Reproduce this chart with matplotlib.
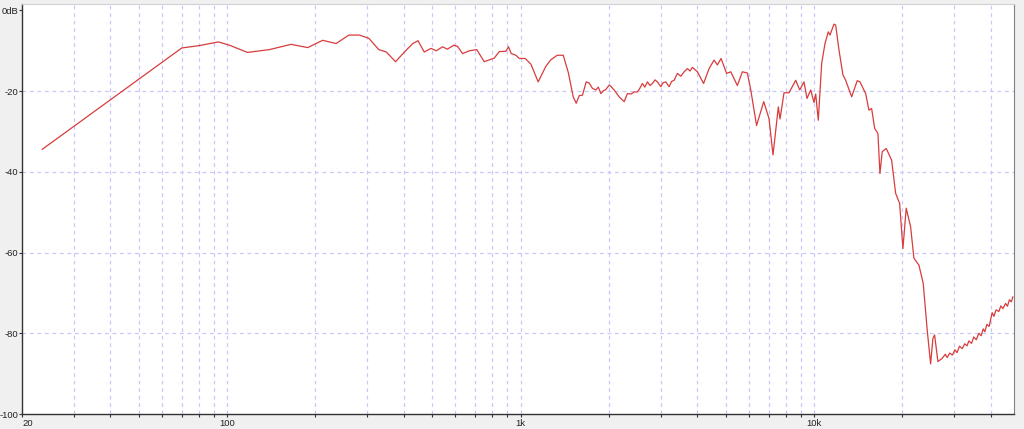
import numpy as np
import matplotlib
matplotlib.use("Agg")
import matplotlib.pyplot as plt
from matplotlib.ticker import FixedLocator, NullFormatter

# frequency response (Hz, dB)
freq = [23.45, 70.05, 80.5, 93.4, 101.8, 117.3, 139.3, 165.2, 188.2, 211.6,
        235.1, 259.9, 282.2, 304.0, 328.7, 348.6, 375.0, 403.0, 429.1, 447.0,
        469.6, 495.0, 516.0, 542.1, 562.5, 592.8, 609.8, 634.2, 668.4, 708.9,
        751.8, 813.3, 845.8, 891.2, 909.6, 929.1, 964.0, 989.2, 1037, 1084,
        1148, 1220, 1269, 1333, 1397, 1453, 1511, 1547, 1584, 1625,
        1673, 1713, 1757, 1805, 1840, 1877, 1915, 1952, 2003, 2030, 2083, 2166,
        2253, 2312, 2380, 2437, 2495, 2534, 2601, 2650, 2705, 2760, 2813,
        2870, 2926, 3005, 3060, 3125, 3206, 3270, 3335, 3422, 3515, 3607,
        3702, 3780, 3850, 4004, 4203, 4388, 4563, 4683, 4821, 5033,
        5202, 5478, 5697, 5925, 6085, 6368, 6737, 7023, 7246, 7554,
        7655, 7899, 8215, 8658, 8934, 9240, 9460, 9739, 9994, 10128,
        10336, 10616, 10894, 11179, 11329, 11690, 11847, 12158, 12545, 12813,
        13430, 14032, 14332, 14988, 15380, 15709, 16083, 16505, 16766, 17071,
        17614, 18376, 18962, 19566, 20079, 20605, 21328, 21887, 22764, 23544,
        24294, 24951, 25405, 25746, 26420, 27326, 28000, 28400, 29000, 29600,
        30190, 30700, 31300, 31970, 32600, 33200, 33690, 34400, 35000, 35700,
        36440, 37100, 37700, 38190, 38800, 39500, 40000, 40440, 41000, 41700,
        42620, 43300, 44000, 44910, 45600, 46300, 47000, 47580]
level = [-34.4, -9.3, -8.7, -7.8, -8.6, -10.4, -9.7, -8.4, -9.2, -7.4,
         -8.2, -6.1, -6.1, -6.9, -9.7, -10.3, -12.7, -10.2, -8.2, -7.5,
         -10.3, -9.4, -10.0, -9.0, -9.6, -8.6, -8.9, -10.7, -10.0, -9.7,
         -12.7, -11.8, -10.2, -10.1, -9.0, -10.7, -11.1, -11.9, -11.9, -13.3,
         -17.7, -13.8, -12.2, -11.1, -11.1, -15.3, -21.4, -23.0, -21.1, -21.0,
         -17.7, -18.0, -19.3, -19.7, -19.0, -20.6, -19.9, -19.6, -18.5, -18.8, -19.7, -21.4,
         -22.6, -20.6, -20.7, -20.2, -20.2, -19.6, -18.1, -19.0, -17.7, -18.6, -18.1,
         -17.2, -17.7, -18.9, -17.9, -17.7, -18.9, -17.6, -17.3, -15.6, -16.3, -15.2,
         -14.4, -15.0, -14.1, -15.2, -18.1, -14.4, -12.3, -13.5, -11.9, -15.6,
         -15.2, -18.6, -15.2, -15.5, -19.7, -28.5, -22.6, -26.8, -35.8, -23.9,
         -26.9, -20.4, -20.4, -17.3, -19.7, -17.7, -21.8, -19.7, -22.8, -20.7,
         -27.2, -13.1, -8.2, -5.3, -6.1, -3.4, -3.6, -9.8, -16.0, -17.3,
         -21.4, -17.4, -17.7, -20.6, -24.7, -24.3, -29.2, -30.5, -40.4, -35.0,
         -34.2, -37.1, -45.3, -47.8, -59.0, -49.0, -53.6, -61.4, -63.1, -67.6,
         -79.2, -87.6, -81.3, -80.4, -87.0, -86.2, -85.2, -86.0, -84.9, -85.4,
         -84.1, -84.8, -83.2, -83.8, -82.6, -83.1, -81.9, -82.5, -80.9, -81.6,
         -80.0, -80.6, -78.9, -79.6, -77.8, -78.3, -76.5, -74.9, -75.8, -74.2,
         -74.6, -73.2, -73.9, -72.6, -73.3, -71.7, -72.2, -71.0]

x_major = [20, 100, 1000, 10000]
x_labels = ["20", "100", "1k", "10k"]
x_grid = [30, 40, 50, 60, 70, 80, 90, 100,
          200, 300, 400, 500, 600, 700, 800, 900, 1000,
          2000, 3000, 4000, 5000, 6000, 7000, 8000, 9000, 10000,
          20000, 30000, 40000]
y_major = [0, -20, -40, -60, -80, -100]
y_labels = ["0dB", "-20", "-40", "-60", "-80", "-100"]

plt.rcParams['font.family'] = ['Liberation Sans', 'DejaVu Sans']

fig = plt.figure(figsize=(10.24, 4.29), dpi=100, facecolor="#f0f0f0")
ax = fig.add_axes([22 / 1024, 15 / 429, 992 / 1024, 410 / 429])
ax.set_facecolor("white")

grid_col = "#c8c8f8"
for g in x_grid:
    ax.axvline(g, color=grid_col, lw=0.9, ls=(0, (3, 3)), zorder=1)
for g in [-20, -40, -60, -80]:
    ax.axhline(g, color=grid_col, lw=0.9, ls=(0, (3, 3)), zorder=1)

ax.plot(freq, level, color="#d83c3c", lw=0.9, zorder=3)

ax.set_xscale("log")
ax.set_xlim(20, 48000)
ax.set_ylim(-100, 1.6)

ax.xaxis.set_major_locator(FixedLocator(x_major))
ax.set_xticklabels(x_labels)
ax.xaxis.set_minor_locator(FixedLocator(x_grid))
ax.xaxis.set_minor_formatter(NullFormatter())
ax.set_yticks(y_major)
ax.set_yticklabels(y_labels)

ax.tick_params(axis="both", which="both", direction="out", length=2, width=0.8,
               color="#333333", labelsize=6.8, labelcolor="#222222", pad=0.5)
ax.tick_params(axis="x", which="major", pad=1.5)
ax.get_xticklabels()[0].set_horizontalalignment("left")

for s in ["left", "bottom"]:
    ax.spines[s].set_color("#333333")
    ax.spines[s].set_linewidth(1.0)
ax.spines["right"].set_color("#808080")
ax.spines["top"].set_color("#d0d0d0")

fig.savefig("out.png", dpi=100, facecolor=fig.get_facecolor())
